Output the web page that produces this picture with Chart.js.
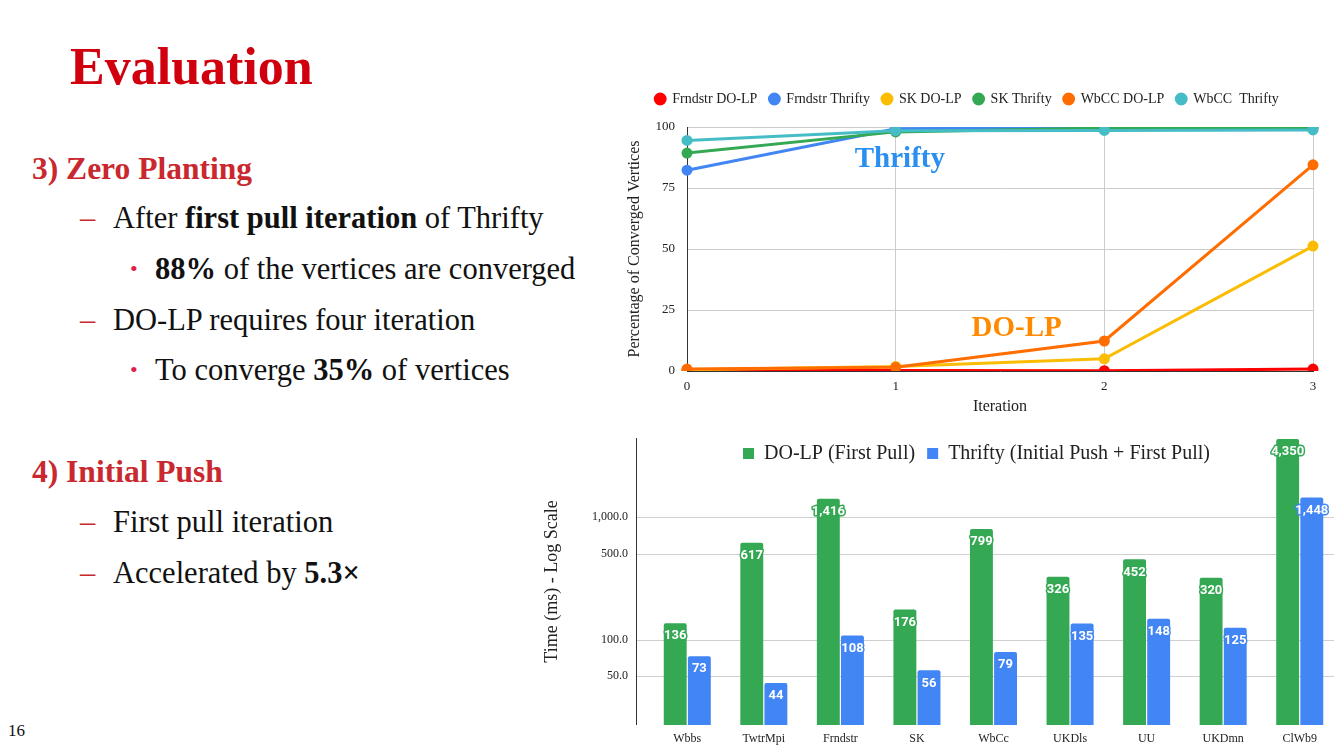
<!DOCTYPE html>
<html>
<head>
<meta charset="utf-8">
<script src="https://cdn.jsdelivr.net/npm/chart.js@4/dist/chart.umd.min.js"></script>
<style>
  body { margin: 0; width: 1334px; height: 750px; overflow: hidden; background: #fff; position: relative; font-family: "Liberation Serif", serif; color: #111; }
  .t { position: absolute; white-space: nowrap; line-height: 1; }
  .title { font-size: 52px; font-weight: bold; color: #d0000f; }
  .h { font-size: 31.5px; font-weight: bold; color: #c8282e; }
  .b { font-size: 30.5px; }
  .dash { color: #c8282e; }
  .dot { color: #e0204a; font-size: 22px; }
  #topWrap { position: absolute; left: 621px; top: 80px; width: 719px; height: 340px; }
  #botWrap { position: absolute; left: 530px; top: 430px; width: 820px; height: 320px; }
</style>
</head>
<body>
<div class="t title" style="left:70px;top:41px">Evaluation</div>
<div class="t h" style="left:32px;top:153px">3) Zero Planting</div>
<div class="t b dash" style="left:80px;top:203px">–</div>
<div class="t b" style="left:113px;top:203px">After <b>first pull iteration</b> of Thrifty</div>
<div class="t dot" style="left:130px;top:258px">•</div>
<div class="t b" style="left:155px;top:254px"><b>88%</b> of the vertices are converged</div>
<div class="t b dash" style="left:80px;top:305px">–</div>
<div class="t b" style="left:113px;top:305px">DO-LP requires four iteration</div>
<div class="t dot" style="left:130px;top:359px">•</div>
<div class="t b" style="left:155px;top:355px">To converge <b>35%</b> of vertices</div>
<div class="t h" style="left:32px;top:456px">4) Initial Push</div>
<div class="t b dash" style="left:80px;top:507px">–</div>
<div class="t b" style="left:113px;top:507px">First pull iteration</div>
<div class="t b dash" style="left:80px;top:558px">–</div>
<div class="t b" style="left:113px;top:558px">Accelerated by <b>5.3×</b></div>
<div class="t" style="left:8px;top:722px;font-size:17px">16</div>

<div id="topWrap"><canvas id="convChart"></canvas></div>
<div id="botWrap"><canvas id="timeChart"></canvas></div>

<script>
// top chart: converged vertices per iteration
const iterations = ["0", "1", "2", "3"];
const frndstrDoLp = [0.3, 0.2, 0.1, 0.8];
const frndstrThrifty = [82.3, 99.3, 99.7, 99.7];
const skDoLp = [0.5, 1.8, 5.0, 51.2];
const skThrifty = [89.3, 98.0, 99.6, 99.8];
const wbccDoLp = [0.8, 1.5, 12.3, 84.5];
const wbccThrifty = [94.5, 98.5, 98.6, 98.8];
const convTicks = [0, 25, 50, 75, 100];

// bottom chart: first pull time (ms)
const graphs = ["Wbbs", "TwtrMpi", "Frndstr", "SK", "WbCc", "UKDls", "UU", "UKDmn", "ClWb9"];
const doLpFirstPull = [136, 617, 1416, 176, 799, 326, 452, 320, 4350];
const thriftyPushPull = [73, 44, 108, 56, 79, 135, 148, 125, 1448];
const timeTicks = [50, 100, 500, 1000];

const serif = "'Liberation Serif', 'Times New Roman', serif";

const lineSets = [
  ["Frndstr DO-LP", frndstrDoLp, "#ff0000"],
  ["Frndstr Thrifty", frndstrThrifty, "#4285f4"],
  ["SK DO-LP", skDoLp, "#fbbc04"],
  ["SK Thrifty", skThrifty, "#34a853"],
  ["WbCC DO-LP", wbccDoLp, "#ff6d01"],
  ["WbCC  Thrifty", wbccThrifty, "#46bdc6"],
];

// text annotations on the line chart, in data units
const notes = [
  { text: "Thrifty", x: 1.02, y: 86.5, color: "#2a8fef" },
  { text: "DO-LP", x: 1.58, y: 17.6, color: "#ff8a00" },
];

const notePlugin = {
  id: "notes",
  afterDatasetsDraw(chart) {
    const { ctx, scales } = chart;
    ctx.save();
    ctx.font = "bold 29px " + serif;
    ctx.textAlign = "center";
    ctx.textBaseline = "middle";
    notes.forEach(n => {
      ctx.fillStyle = n.color;
      ctx.fillText(n.text, scales.x.getPixelForValue(n.x), scales.y.getPixelForValue(n.y));
    });
    ctx.restore();
  }
};

const legendGap = {
  id: "legendGap",
  beforeInit(chart) {
    const fit = chart.legend.fit;
    chart.legend.fit = function () { fit.call(this); this.height += 11; };
  }
};

new Chart(document.getElementById("convChart"), {
  type: "line",
  data: {
    labels: iterations,
    datasets: lineSets.map(([label, data, color], i) => ({
      label, data,
      borderColor: color, backgroundColor: color,
      borderWidth: 3, pointRadius: 4, pointHoverRadius: 4,
      order: lineSets.length - i,
    })),
  },
  options: {
    responsive: true, maintainAspectRatio: false, animation: false,
    layout: { padding: { left: 0, right: 27, top: 0, bottom: 0 } },
    plugins: {
      tooltip: { enabled: false },
      legend: {
        labels: {
          usePointStyle: true, pointStyle: "circle", boxWidth: 10, boxHeight: 7,
          padding: 12, color: "#222", font: { family: serif, size: 14 },
          sort: (a, b) => a.datasetIndex - b.datasetIndex,
        },
      },
    },
    scales: {
      x: {
        offset: false,
        grid: { color: "#cccccc", drawTicks: false },
        border: { color: "#333" },
        ticks: { color: "#222", font: { family: serif, size: 13 }, padding: 8 },
        title: { display: true, text: "Iteration", color: "#222", font: { family: serif, size: 16 } },
        afterFit: s => { s.height = 49; },
      },
      y: {
        min: 0, max: 100,
        afterBuildTicks: s => { s.ticks = convTicks.map(v => ({ value: v })); },
        grid: { color: "#cccccc", drawTicks: false },
        border: { color: "#333" },
        ticks: { color: "#222", font: { family: serif, size: 13 }, padding: 12 },
        title: { display: true, text: "Percentage of Converged Vertices", color: "#222", font: { family: serif, size: 16 } },
        afterFit: s => { s.width = 66; },
      },
    },
  },
  plugins: [notePlugin, legendGap],
});

// y axis line and grid start a bit left of the first category; legend sits over the plot
const logGrid = {
  id: "logGrid",
  beforeInit(chart) {
    const fit = chart.legend.fit;
    chart.legend.fit = function () { fit.call(this); this.fullHeight = this.height; this.height = 8; };
  },
  afterLayout(chart) {
    const lg = chart.legend;
    lg.left -= 17; lg.right -= 17;
    lg.top += 1.5; lg.height = lg.fullHeight; lg.bottom = lg.top + lg.fullHeight;
  },
  beforeDatasetsDraw(chart) {
    const { ctx, chartArea, scales } = chart;
    const x0 = chartArea.left - 13;
    ctx.save();
    ctx.strokeStyle = "#d0d0d0";
    ctx.lineWidth = 1;
    timeTicks.forEach(v => {
      const y = Math.round(scales.y.getPixelForValue(v)) + 0.5;
      ctx.beginPath(); ctx.moveTo(x0, y); ctx.lineTo(chart.width, y); ctx.stroke();
    });
    ctx.strokeStyle = "#333";
    ctx.beginPath(); ctx.moveTo(x0 + 0.5, chartArea.top); ctx.lineTo(x0 + 0.5, chartArea.bottom); ctx.stroke();
    ctx.restore();
  },
};

const barLabels = {
  id: "barLabels",
  afterDatasetsDraw(chart) {
    const { ctx } = chart;
    ctx.save();
    ctx.font = "bold 13px Roboto, sans-serif";
    ctx.textAlign = "center";
    ctx.textBaseline = "middle";
    ctx.lineJoin = "round";
    ctx.lineWidth = 3;
    chart.data.datasets.forEach((ds, i) => {
      chart.getDatasetMeta(i).data.forEach((bar, j) => {
        const txt = ds.data[j].toLocaleString("en-US");
        ctx.strokeStyle = ds.backgroundColor;
        ctx.strokeText(txt, bar.x, bar.y + 13);
        ctx.fillStyle = "#fff";
        ctx.fillText(txt, bar.x, bar.y + 13);
      });
    });
    ctx.restore();
  }
};

new Chart(document.getElementById("timeChart"), {
  type: "bar",
  data: {
    labels: graphs,
    datasets: [
      { label: "DO-LP (First Pull)", data: doLpFirstPull, backgroundColor: "#34a853" },
      { label: "Thrifty (Initial Push + First Pull)", data: thriftyPushPull, backgroundColor: "#4285f4" },
    ],
  },
  options: {
    responsive: true, maintainAspectRatio: false, animation: false,
    layout: { padding: { left: 0, right: 12, top: 0, bottom: 0 } },
    datasets: { bar: { categoryPercentage: 0.63, barPercentage: 0.95, borderRadius: 2, borderSkipped: "bottom" } },
    plugins: {
      tooltip: { enabled: false },
      legend: {
        position: "top",
        fullSize: false,
        labels: { boxWidth: 11, boxHeight: 11, padding: 12, color: "#222", font: { family: serif, size: 20 } },
      },
    },
    scales: {
      x: {
        grid: { display: false, drawTicks: false },
        border: { display: false },
        ticks: { color: "#222", font: { family: serif, size: 12 }, padding: 7 },
        afterFit: s => { s.height = 25; },
      },
      y: {
        type: "logarithmic",
        min: 20, max: 4440,
        afterBuildTicks: s => { s.ticks = timeTicks.map(v => ({ value: v })); },
        grid: { display: false, drawTicks: false },
        border: { display: false },
        ticks: {
          color: "#222", font: { family: serif, size: 12 }, padding: 21,
          callback: v => v.toLocaleString("en-US", { minimumFractionDigits: 1 }),
        },
        title: { display: true, text: "Time (ms) - Log Scale", color: "#222", font: { family: serif, size: 18 }, padding: { top: 11, bottom: 0 } },
        afterFit: s => { s.width = 119; s.paddingTop = 0; s.paddingBottom = 0; },
      },
    },
  },
  plugins: [logGrid, barLabels],
});
</script>
</body>
</html>
